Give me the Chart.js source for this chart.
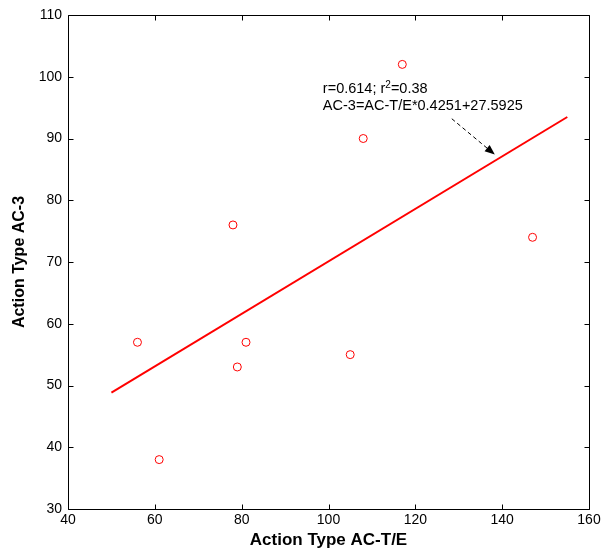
<!DOCTYPE html>
<html>
<head>
<meta charset="utf-8">
<script src="https://cdn.jsdelivr.net/npm/chart.js@4.4.1/dist/chart.umd.min.js"></script>
<style>
html,body{margin:0;padding:0;background:#fff;}
#wrap{width:601px;height:555px;position:relative;}
</style>
</head>
<body>
<div id="wrap"><canvas id="c" width="601" height="555"></canvas></div>
<script>
// ---- data ----
const xValues = [117, 108, 78, 147, 56, 81, 79, 105, 61];
const yValues = [102, 90, 76, 74, 57, 57, 53, 55, 38];
const fitX = [50, 155];
const fitY = [48.85, 93.48];
const xTicks = [40, 60, 80, 100, 120, 140, 160];
const yTicks = [30, 40, 50, 60, 70, 80, 90, 100, 110];
const xTitle = 'Action Type AC-T/E';
const yTitle = 'Action Type AC-3';
const annotLine1a = 'r=0.614; r';
const annotSup = '2';
const annotLine1b = '=0.38';
const annotLine2 = 'AC-3=AC-T/E*0.4251+27.5925';
const annotAnchor = [98.7, 97.3];   // text position (data units)
const annotLine2Anchor = [98.7, 94.6];
const arrowFrom = [128.4, 93.2];
const arrowTo = [138.3, 87.4];

const FONT = '"Liberation Sans", Arial, sans-serif';

const boxPlugin = {
  id: 'box',
  afterDatasetsDraw(chart) {
    const {ctx, chartArea: a, scales: {x, y}} = chart;
    ctx.save();
    ctx.strokeStyle = '#000';
    ctx.lineWidth = 1;
    const L = Math.round(a.left) + 0.5, R = Math.round(a.right) + 0.5;
    const T = Math.round(a.top) + 0.5, B = Math.round(a.bottom) + 0.5;
    ctx.beginPath();
    ctx.rect(L, T, R - L, B - T);
    const tl = 5;
    xTicks.forEach(v => {
      const px = Math.round(x.getPixelForValue(v)) + 0.5;
      ctx.moveTo(px, B); ctx.lineTo(px, B - tl);
      ctx.moveTo(px, T); ctx.lineTo(px, T + tl);
    });
    yTicks.forEach(v => {
      const py = Math.round(y.getPixelForValue(v)) + 0.5;
      ctx.moveTo(L, py); ctx.lineTo(L + tl, py);
      ctx.moveTo(R, py); ctx.lineTo(R - tl, py);
    });
    ctx.stroke();

    // annotation text
    ctx.fillStyle = '#000';
    ctx.textBaseline = 'alphabetic';
    ctx.textAlign = 'left';
    ctx.font = '14.5px ' + FONT;
    let tx = x.getPixelForValue(annotAnchor[0]);
    const ty = y.getPixelForValue(annotAnchor[1]);
    ctx.fillText(annotLine1a, tx, ty);
    tx += ctx.measureText(annotLine1a).width;
    ctx.font = '10px ' + FONT;
    ctx.fillText(annotSup, tx, ty - 5);
    tx += ctx.measureText(annotSup).width;
    ctx.font = '14.5px ' + FONT;
    ctx.fillText(annotLine1b, tx, ty);
    ctx.fillText(annotLine2, x.getPixelForValue(annotLine2Anchor[0]), y.getPixelForValue(annotLine2Anchor[1]));

    // dashed arrow
    const x0 = x.getPixelForValue(arrowFrom[0]), y0 = y.getPixelForValue(arrowFrom[1]);
    const x1 = x.getPixelForValue(arrowTo[0]), y1 = y.getPixelForValue(arrowTo[1]);
    const ang = Math.atan2(y1 - y0, x1 - x0);
    const hl = 10, hw = 4;
    const bx = x1 - hl * Math.cos(ang), by = y1 - hl * Math.sin(ang);
    ctx.setLineDash([4, 3]);
    ctx.lineWidth = 1;
    ctx.beginPath();
    ctx.moveTo(x0, y0); ctx.lineTo(bx, by);
    ctx.stroke();
    ctx.setLineDash([]);
    ctx.beginPath();
    ctx.moveTo(x1, y1);
    ctx.lineTo(bx + hw * Math.sin(ang), by - hw * Math.cos(ang));
    ctx.lineTo(bx - hw * Math.sin(ang), by + hw * Math.cos(ang));
    ctx.closePath();
    ctx.fill();
    ctx.restore();
  }
};

new Chart(document.getElementById('c'), {
  type: 'scatter',
  data: {
    datasets: [
      {
        label: 'fit',
        type: 'line',
        data: fitX.map((v, i) => ({x: v, y: fitY[i]})),
        borderColor: '#ff0000',
        borderWidth: 2,
        pointRadius: 0,
        fill: false,
        order: 2
      },
      {
        label: 'data',
        data: xValues.map((v, i) => ({x: v, y: yValues[i]})),
        pointStyle: 'circle',
        pointRadius: 4,
        pointBorderWidth: 1,
        borderColor: '#ff0000',
        backgroundColor: 'rgba(0,0,0,0)',
        pointBackgroundColor: 'rgba(0,0,0,0)',
        order: 1
      }
    ]
  },
  options: {
    responsive: false,
    animation: false,
    devicePixelRatio: 1,
    layout: {padding: {left: 0, right: 12, top: 15, bottom: 0}},
    plugins: {legend: {display: false}, tooltip: {enabled: false}},
    scales: {
      x: {
        type: 'linear',
        min: 40, max: 160,
        afterBuildTicks: s => { s.ticks = xTicks.map(v => ({value: v})); },
        afterFit: s => { s.height = 46; s.paddingLeft = 0; s.paddingRight = 0; },
        grid: {display: false, drawTicks: false},
        border: {display: false},
        ticks: {color: '#000', padding: 3, font: {family: FONT, size: 14}, maxRotation: 0, autoSkip: false},
        title: {display: true, text: xTitle, color: '#000', font: {family: FONT, size: 17, weight: 'bold'}, padding: {top: 0, bottom: 4}}
      },
      y: {
        type: 'linear',
        min: 30, max: 110,
        afterBuildTicks: s => { s.ticks = yTicks.map(v => ({value: v})); },
        afterFit: s => { s.width = 68; s.paddingTop = 0; s.paddingBottom = 0; },
        grid: {display: false, drawTicks: false},
        border: {display: false},
        ticks: {color: '#000', padding: 6, font: {family: FONT, size: 14}, autoSkip: false},
        title: {display: true, text: yTitle, color: '#000', font: {family: FONT, size: 16, weight: 'bold'}, padding: {top: 10, bottom: 0}}
      }
    }
  },
  plugins: [boxPlugin]
});
</script>
</body>
</html>
